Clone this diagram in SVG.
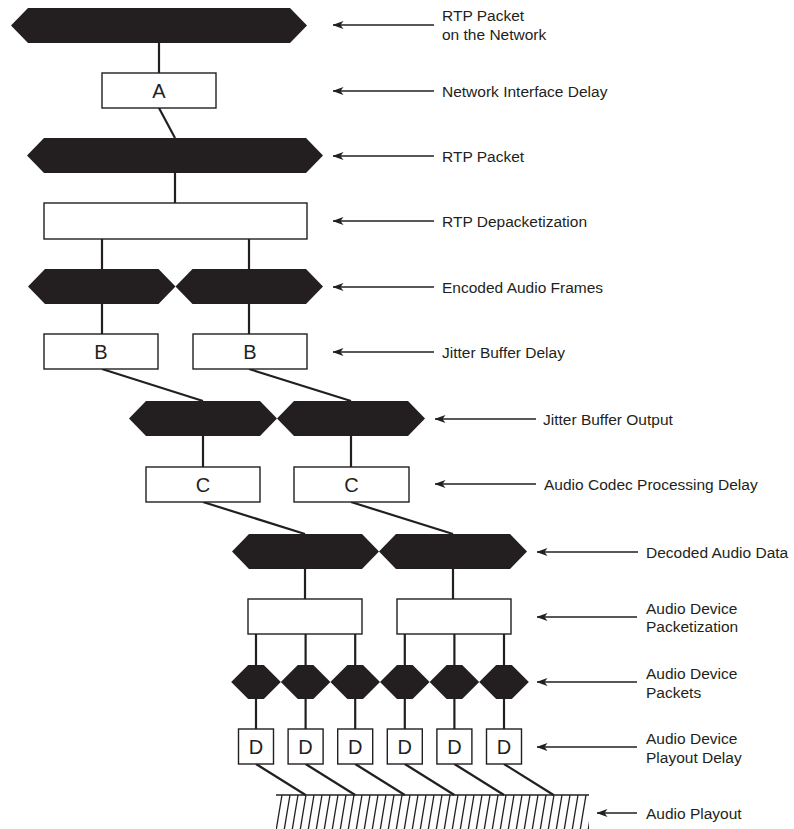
<svg xmlns="http://www.w3.org/2000/svg" width="794" height="829" viewBox="0 0 794 829">
<style>
.hex{fill:#231f20;stroke:none}
.box{fill:#fff;stroke:#231f20;stroke-width:1.4}
.ltr{font-family:"Liberation Sans",Arial,sans-serif;font-size:20px;fill:#231f20;text-anchor:middle}
.lbl{font-family:"Liberation Sans",Arial,sans-serif;font-size:15.5px;fill:#231f20}
.con line{stroke:#231f20;stroke-width:2.2;fill:none}
.arr line{stroke:#231f20;stroke-width:1.3;marker-end:url(#ah)}
.hatch line{stroke:#231f20;stroke-width:1.3}
</style>
<defs>
<marker id="ah" markerUnits="userSpaceOnUse" viewBox="0 0 11 8" refX="10.5" refY="4" markerWidth="11" markerHeight="8" orient="auto">
<path d="M0,0 L11,4 L0,8 L3,4 z" fill="#231f20"/>
</marker>
<clipPath id="gc"><rect x="276" y="795" width="313" height="34"/></clipPath>
</defs>

<g id="connectors" class="con">
<line x1="159" y1="43" x2="159" y2="73"/>
<line x1="159" y1="108" x2="175" y2="138"/>
<line x1="175" y1="173" x2="175" y2="203"/>
<line x1="102" y1="239" x2="102" y2="269"/>
<line x1="249" y1="239" x2="249" y2="269"/>
<line x1="102" y1="304" x2="102" y2="334"/>
<line x1="249" y1="304" x2="249" y2="334"/>
<line x1="102" y1="369" x2="203" y2="401"/>
<line x1="249" y1="369" x2="351" y2="401"/>
<line x1="203" y1="436" x2="203" y2="467"/>
<line x1="351" y1="436" x2="351" y2="467"/>
<line x1="203" y1="502" x2="305" y2="534"/>
<line x1="351" y1="502" x2="453" y2="534"/>
<line x1="305" y1="569" x2="305" y2="599"/>
<line x1="453" y1="569" x2="453" y2="599"/>
<line x1="256" y1="634" x2="256" y2="665"/>
<line x1="305.6" y1="634" x2="305.6" y2="665"/>
<line x1="355.2" y1="634" x2="355.2" y2="665"/>
<line x1="404.8" y1="634" x2="404.8" y2="665"/>
<line x1="454.4" y1="634" x2="454.4" y2="665"/>
<line x1="504" y1="634" x2="504" y2="665"/>
<line x1="256" y1="699" x2="256" y2="729"/>
<line x1="305.6" y1="699" x2="305.6" y2="729"/>
<line x1="355.2" y1="699" x2="355.2" y2="729"/>
<line x1="404.8" y1="699" x2="404.8" y2="729"/>
<line x1="454.4" y1="699" x2="454.4" y2="729"/>
<line x1="504" y1="699" x2="504" y2="729"/>
<line x1="256" y1="764" x2="305.6" y2="795"/>
<line x1="305.6" y1="764" x2="355.2" y2="795"/>
<line x1="355.2" y1="764" x2="404.8" y2="795"/>
<line x1="404.8" y1="764" x2="454.4" y2="795"/>
<line x1="454.4" y1="764" x2="504" y2="795"/>
<line x1="504" y1="764" x2="553.6" y2="795"/>
</g>

<g id="rtp-network"><polygon class="hex" points="11,25.5 28,8 290,8 307,25.5 290,43 28,43"/></g>
<g id="box-a"><rect class="box" x="102" y="73" width="114" height="35"/><text class="ltr" x="159" y="97.5">A</text></g>
<g id="rtp-packet"><polygon class="hex" points="27,155.5 44,138 306,138 323,155.5 306,173 44,173"/></g>
<g id="rtp-depack"><rect class="box" x="44" y="203" width="263" height="36"/></g>
<g id="enc-1"><polygon class="hex" points="28,286.5 45,269 158.5,269 175.5,286.5 158.5,304 45,304"/></g>
<g id="enc-2"><polygon class="hex" points="175.5,286.5 192.5,269 306,269 323,286.5 306,304 192.5,304"/></g>
<g id="box-b1"><rect class="box" x="44" y="334" width="114" height="35"/><text class="ltr" x="101" y="358.5">B</text></g>
<g id="box-b2"><rect class="box" x="193" y="334" width="114" height="35"/><text class="ltr" x="250" y="358.5">B</text></g>
<g id="jit-1"><polygon class="hex" points="129,418.5 146,401 260,401 277,418.5 260,436 146,436"/></g>
<g id="jit-2"><polygon class="hex" points="277,418.5 294,401 408,401 425,418.5 408,436 294,436"/></g>
<g id="box-c1"><rect class="box" x="146" y="467" width="114" height="35"/><text class="ltr" x="203" y="491.5">C</text></g>
<g id="box-c2"><rect class="box" x="294" y="467" width="115" height="35"/><text class="ltr" x="351.5" y="491.5">C</text></g>
<g id="dec-1"><polygon class="hex" points="232,551.5 249,534 362,534 379,551.5 362,569 249,569"/></g>
<g id="dec-2"><polygon class="hex" points="379,551.5 396,534 510,534 527,551.5 510,569 396,569"/></g>
<g id="pkt-1"><rect class="box" x="248" y="599" width="114" height="35"/></g>
<g id="pkt-2"><rect class="box" x="397" y="599" width="114" height="35"/></g>
<g id="adp-1"><polygon class="hex" points="231.2,682 248.2,665 263.8,665 280.8,682 263.8,699 248.2,699"/></g>
<g id="adp-2"><polygon class="hex" points="280.8,682 297.8,665 313.4,665 330.4,682 313.4,699 297.8,699"/></g>
<g id="adp-3"><polygon class="hex" points="330.4,682 347.4,665 363,665 380,682 363,699 347.4,699"/></g>
<g id="adp-4"><polygon class="hex" points="380,682 397,665 412.6,665 429.6,682 412.6,699 397,699"/></g>
<g id="adp-5"><polygon class="hex" points="429.6,682 446.6,665 462.2,665 479.2,682 462.2,699 446.6,699"/></g>
<g id="adp-6"><polygon class="hex" points="479.2,682 496.2,665 511.8,665 528.8,682 511.8,699 496.2,699"/></g>
<g id="box-d1"><rect class="box" x="238.5" y="729" width="35" height="35"/><text class="ltr" x="256" y="753.5">D</text></g>
<g id="box-d2"><rect class="box" x="288.1" y="729" width="35" height="35"/><text class="ltr" x="305.6" y="753.5">D</text></g>
<g id="box-d3"><rect class="box" x="337.7" y="729" width="35" height="35"/><text class="ltr" x="355.2" y="753.5">D</text></g>
<g id="box-d4"><rect class="box" x="387.3" y="729" width="35" height="35"/><text class="ltr" x="404.8" y="753.5">D</text></g>
<g id="box-d5"><rect class="box" x="436.9" y="729" width="35" height="35"/><text class="ltr" x="454.4" y="753.5">D</text></g>
<g id="box-d6"><rect class="box" x="486.5" y="729" width="35" height="35"/><text class="ltr" x="504" y="753.5">D</text></g>

<g id="ground">
<line x1="276" y1="795" x2="589" y2="795" stroke="#231f20" stroke-width="1.3"/>
<g class="hatch" clip-path="url(#gc)">
<line x1="282" y1="795" x2="276" y2="831"/><line x1="290" y1="795" x2="284" y2="831"/><line x1="298" y1="795" x2="292" y2="831"/><line x1="306" y1="795" x2="300" y2="831"/><line x1="314" y1="795" x2="308" y2="831"/><line x1="322" y1="795" x2="316" y2="831"/><line x1="330" y1="795" x2="324" y2="831"/><line x1="338" y1="795" x2="332" y2="831"/><line x1="346" y1="795" x2="340" y2="831"/><line x1="354" y1="795" x2="348" y2="831"/><line x1="362" y1="795" x2="356" y2="831"/><line x1="370" y1="795" x2="364" y2="831"/><line x1="378" y1="795" x2="372" y2="831"/><line x1="386" y1="795" x2="380" y2="831"/><line x1="394" y1="795" x2="388" y2="831"/><line x1="402" y1="795" x2="396" y2="831"/><line x1="410" y1="795" x2="404" y2="831"/><line x1="418" y1="795" x2="412" y2="831"/><line x1="426" y1="795" x2="420" y2="831"/><line x1="434" y1="795" x2="428" y2="831"/><line x1="442" y1="795" x2="436" y2="831"/><line x1="450" y1="795" x2="444" y2="831"/><line x1="458" y1="795" x2="452" y2="831"/><line x1="466" y1="795" x2="460" y2="831"/><line x1="474" y1="795" x2="468" y2="831"/><line x1="482" y1="795" x2="476" y2="831"/><line x1="490" y1="795" x2="484" y2="831"/><line x1="498" y1="795" x2="492" y2="831"/><line x1="506" y1="795" x2="500" y2="831"/><line x1="514" y1="795" x2="508" y2="831"/><line x1="522" y1="795" x2="516" y2="831"/><line x1="530" y1="795" x2="524" y2="831"/><line x1="538" y1="795" x2="532" y2="831"/><line x1="546" y1="795" x2="540" y2="831"/><line x1="554" y1="795" x2="548" y2="831"/><line x1="562" y1="795" x2="556" y2="831"/><line x1="570" y1="795" x2="564" y2="831"/><line x1="578" y1="795" x2="572" y2="831"/><line x1="586" y1="795" x2="580" y2="831"/><line x1="594" y1="795" x2="588" y2="831"/>
</g>
</g>

<g id="arrows" class="arr">
<line x1="434" y1="25" x2="333" y2="25"/>
<line x1="434" y1="91" x2="333" y2="91"/>
<line x1="434" y1="156" x2="333" y2="156"/>
<line x1="434" y1="221" x2="333" y2="221"/>
<line x1="434" y1="287" x2="333" y2="287"/>
<line x1="434" y1="352" x2="333" y2="352"/>
<line x1="536" y1="419" x2="435" y2="419"/>
<line x1="536" y1="484" x2="435" y2="484"/>
<line x1="638" y1="552" x2="537" y2="552"/>
<line x1="637" y1="617" x2="537" y2="617"/>
<line x1="637" y1="682" x2="537" y2="682"/>
<line x1="637" y1="747" x2="537" y2="747"/>
<line x1="637" y1="813" x2="597" y2="813"/>
</g>

<g id="labels" class="lbl">
<text x="442" y="21">RTP Packet</text>
<text x="442" y="40">on the Network</text>
<text x="442" y="96.5">Network Interface Delay</text>
<text x="442" y="161.5">RTP Packet</text>
<text x="442" y="226.5">RTP Depacketization</text>
<text x="442" y="292.5">Encoded Audio Frames</text>
<text x="442" y="357.5">Jitter Buffer Delay</text>
<text x="543" y="424.5">Jitter Buffer Output</text>
<text x="544" y="489.5">Audio Codec Processing Delay</text>
<text x="646" y="557.5">Decoded Audio Data</text>
<text x="646" y="613.5">Audio Device</text>
<text x="646" y="631.5">Packetization</text>
<text x="646" y="678.5">Audio Device</text>
<text x="646" y="697.5">Packets</text>
<text x="646" y="743.5">Audio Device</text>
<text x="646" y="762.5">Playout Delay</text>
<text x="646" y="818.5">Audio Playout</text>
</g>
</svg>
